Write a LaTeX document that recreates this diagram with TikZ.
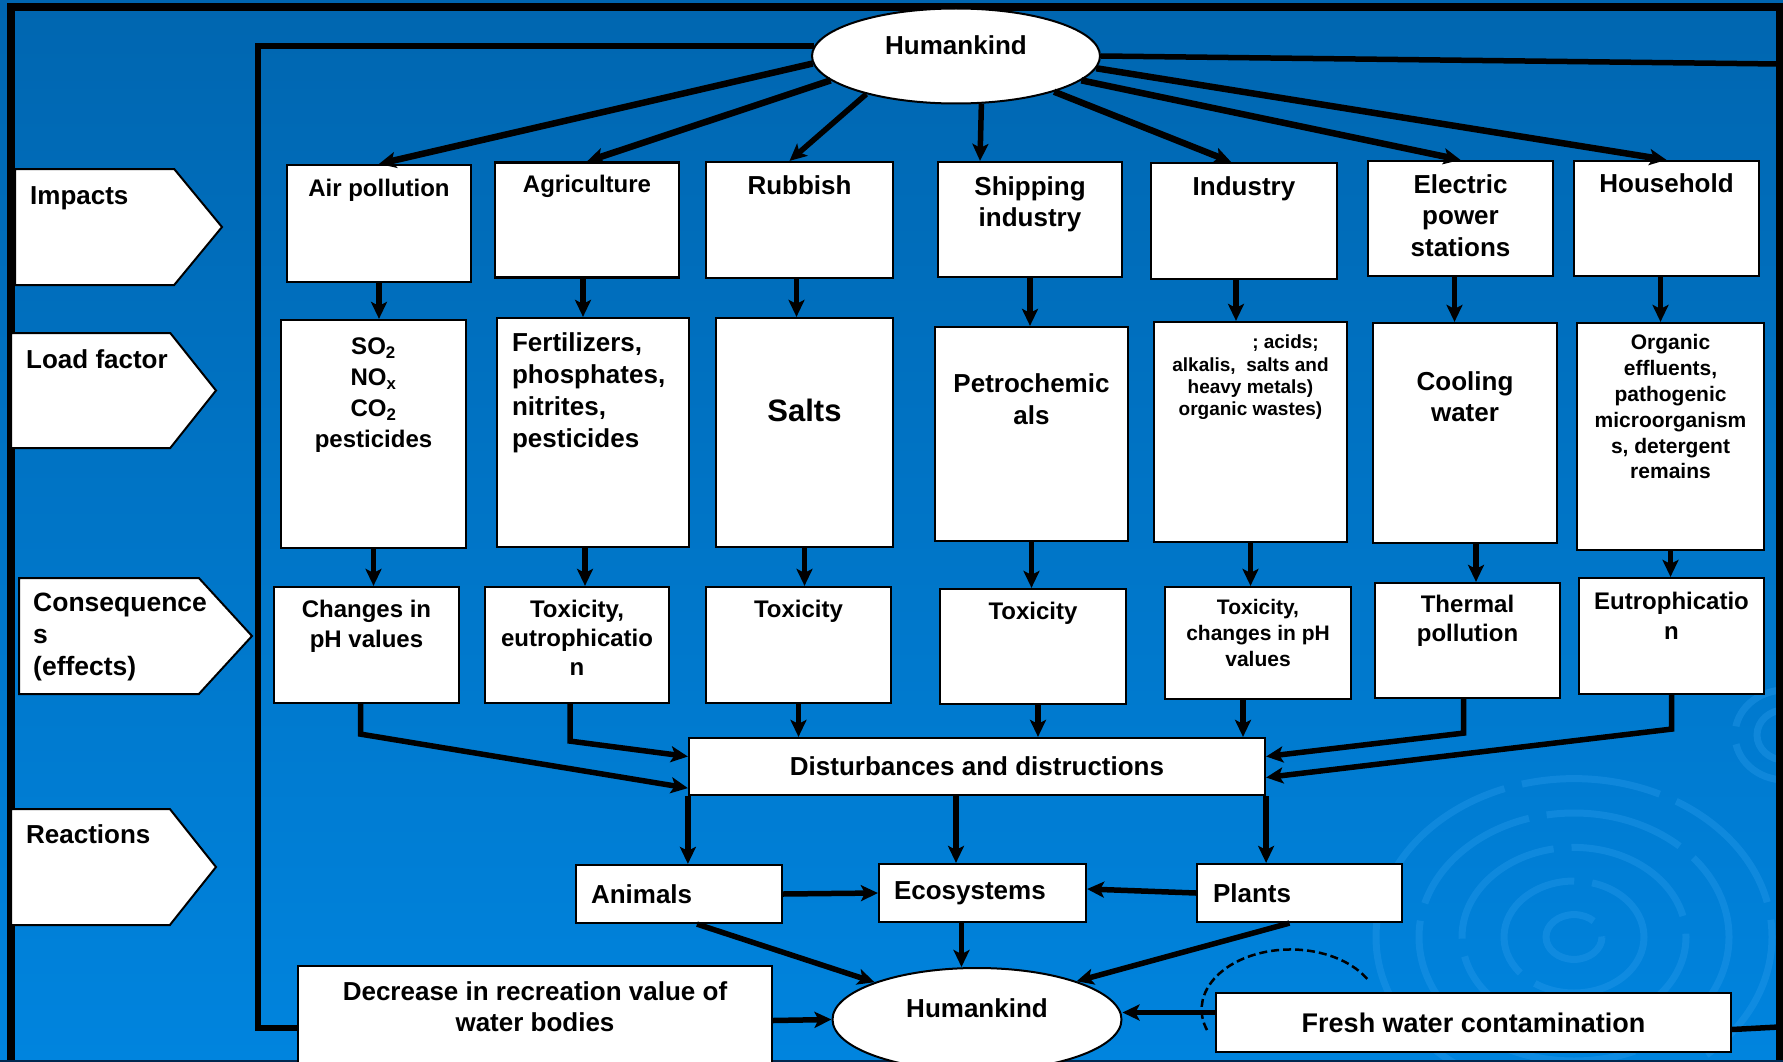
\documentclass[tikz,border=0pt]{standalone}
\usepackage{fontspec}
\setmainfont{Liberation Sans}
\usetikzlibrary{positioning,shapes.geometric,shapes.symbols,arrows.meta}

\definecolor{bgTop}{RGB}{0,102,176}
\definecolor{bgMid}{RGB}{0,110,190}
\definecolor{bgBot}{RGB}{0,132,222}
\definecolor{ripple}{RGB}{40,155,235}
\definecolor{edge}{RGB}{0,40,80}

\newcommand{\fsz}[2]{\bfseries\fontsize{#1}{#2}\selectfont}

\tikzset{
  box/.style={draw=black, line width=2.2pt, fill=white, inner sep=0pt},
  oval/.style={ellipse, draw=black, line width=2pt, fill=white, inner sep=0pt},
  tag/.style={signal, signal to=east, draw=black, line width=2pt, fill=white, inner sep=0pt, anchor=west},
  txt/.style={inner sep=0pt, align=center},
  arr/.style={->, line width=5.5pt},
  link/.style={line width=5.5pt},
  ripplering/.style={ripple, opacity=0.38, line width=7pt, dash pattern=on 140pt off 18pt},
  >={Stealth[length=17pt,width=16pt,inset=4pt]}
}

\begin{document}
\begin{tikzpicture}[x=1pt,y=-1pt]
	\useasboundingbox (0,0) rectangle (1783,1062);
	\clip (0,0) rectangle (1783,1062);
	\shade[top color=bgTop, middle color=bgMid, bottom color=bgBot] (0,0) rectangle (1783,1062);
	% ripples
	\foreach \r in {28,70,112,155,198}
		\draw[ripplering] (1574,937) ellipse [x radius=\r, y radius={0.8*\r}];
	\foreach \r in {28,50}
		\draw[ripplering] (1785,735) ellipse [x radius=\r, y radius={0.9*\r}];
	% frame
	\draw[line width=8pt, line join=miter] (11,1070) -- (11,7) -- (1779.5,7) -- (1779.5,1070);
	\draw[edge, line width=2pt] (0,1061) -- (1783,1061);
	\draw[line width=2.5pt, dash pattern=on 8pt off 4pt] (1207,1030) arc [start angle=160, end angle=330, x radius=89, y radius=60];

	% left tags
	\node[tag, minimum width=207pt, minimum height=116pt, signal pointer angle=101] (tagImp) at (14,227) {};
	\node[tag, minimum width=205pt, minimum height=115pt, signal pointer angle=103] (tagLoad) at (10,390.5) {};
	\node[tag, minimum width=233pt, minimum height=116pt, signal pointer angle=95] (tagCons) at (18,636) {};
	\node[tag, minimum width=205pt, minimum height=116pt, signal pointer angle=103] (tagReac) at (10,867) {};
	\node[txt, anchor=north west, align=left, font=\fsz{26}{32}] (tagImpT) at (30,186) {Impacts};
	\node[txt, anchor=north west, align=left, font=\fsz{26}{32}] (tagLoadT) at (26,349) {Load factor};
	\node[txt, anchor=north west, align=left, font=\fsz{26.5}{32}] (tagConsT) at (33,593) {Consequence\\s\\(effects)};
	\node[txt, anchor=north west, align=left, font=\fsz{26}{32}] (tagReacT) at (26,824) {Reactions};

	% humankind
	\node[oval, minimum width=288pt, minimum height=95pt] (hkT) at (956,56) {};
	\node[txt, font=\fsz{26}{31}] (hkTt) at (956,45) {Humankind};
	\node[oval, minimum width=289pt, minimum height=103pt] (hkB) at (977,1019.5) {};
	\node[txt, font=\fsz{26}{31}] (hkBt) at (977,1008) {Humankind};

	% impacts
	\node[box, minimum width=184pt, minimum height=117pt] (imAir) at (379,223.5) {};
	\node[box, minimum width=184pt, minimum height=115pt] (imAgr) at (587,220) {};
	\node[box, minimum width=187pt, minimum height=116pt] (imRub) at (799.5,220) {};
	\node[box, minimum width=184pt, minimum height=115pt] (imShp) at (1030,219.5) {};
	\node[box, minimum width=186pt, minimum height=116pt] (imInd) at (1244,221) {};
	\node[box, minimum width=185pt, minimum height=115pt] (imEle) at (1460.5,218.5) {};
	\node[box, minimum width=185pt, minimum height=115pt] (imHou) at (1666.5,218.5) {};
	\node[txt, font=\fsz{24}{30}, below=15pt of imAir.north] (imAirT) {Air pollution};
	\node[txt, font=\fsz{24}{30}, below=13.5pt of imAgr.north] (imAgrT) {Agriculture};
	\node[txt, font=\fsz{26}{31}, below=15pt of imRub.north] (imRubT) {Rubbish};
	\node[txt, font=\fsz{26}{31}, below=15.5pt of imShp.north] (imShpT) {Shipping\\industry};
	\node[txt, font=\fsz{26}{31}, below=15pt of imInd.north] (imIndT) {Industry};
	\node[txt, font=\fsz{26}{31.5}, below=14.5pt of imEle.north] (imEleT) {Electric\\power\\stations};
	\node[txt, font=\fsz{26}{31}, below=14pt of imHou.north] (imHouT) {Household};

	% load factors
	\node[box, minimum width=185pt, minimum height=228pt] (lfAir) at (373.5,434) {};
	\node[box, minimum width=192pt, minimum height=229pt] (lfAgr) at (593,432.5) {};
	\node[box, minimum width=177pt, minimum height=229pt] (lfRub) at (804.5,432.5) {};
	\node[box, minimum width=193pt, minimum height=214pt] (lfShp) at (1031.5,434) {};
	\node[box, minimum width=193pt, minimum height=220pt] (lfInd) at (1250.5,432) {};
	\node[box, minimum width=184pt, minimum height=220pt] (lfEle) at (1465,433) {};
	\node[box, minimum width=187pt, minimum height=227pt] (lfHou) at (1670.5,436.5) {};
	\node[txt, font=\fsz{24}{31}, below=19pt of lfAir.north] (lfAirT) {SO\textsubscript{2}\\NO\textsubscript{x}\\CO\textsubscript{2}\\pesticides};
	\node[txt, align=left, font=\fsz{26}{32}, below right=16pt and 16pt of lfAgr.north west] (lfAgrT) {Fertilizers,\\phosphates,\\nitrites,\\pesticides};
	\node[txt, font=\fsz{31}{37}, below=82pt of lfRub.north] (lfRubT) {Salts};
	\node[txt, font=\fsz{26}{32}, below=47.5pt of lfShp.north] (lfShpT) {Petrochemic\\als};
	\node[txt, font=\fsz{19}{22.3}, below=14pt of lfInd.north] (lfIndT) {\hspace*{70pt}; acids;\\alkalis,~ salts and\\heavy metals)\\organic wastes)};
	\node[txt, font=\fsz{26}{31}, below=49.5pt of lfEle.north] (lfEleT) {Cooling\\water};
	\node[txt, font=\fsz{21}{25.8}, below=12.5pt of lfHou.north] (lfHouT) {Organic\\effluents,\\pathogenic\\microorganism\\s, detergent\\remains};

	% consequences
	\node[box, minimum width=185pt, minimum height=116pt] (coAir) at (366.5,645) {};
	\node[box, minimum width=184pt, minimum height=116pt] (coAgr) at (577,645) {};
	\node[box, minimum width=185pt, minimum height=116pt] (coRub) at (798.5,645) {};
	\node[box, minimum width=186pt, minimum height=115pt] (coShp) at (1033,646.5) {};
	\node[box, minimum width=186pt, minimum height=112pt] (coInd) at (1258,643) {};
	\node[box, minimum width=185pt, minimum height=115pt] (coEle) at (1467.5,640.5) {};
	\node[box, minimum width=185pt, minimum height=116pt] (coHou) at (1671.5,636) {};
	\node[txt, font=\fsz{24}{30}, below=14.5pt of coAir.north] (coAirT) {Changes in\\pH values};
	\node[txt, font=\fsz{24}{29}, below=14.5pt of coAgr.north] (coAgrT) {Toxicity,\\eutrophicatio\\n};
	\node[txt, font=\fsz{24}{30}, below=14.5pt of coRub.north] (coRubT) {Toxicity};
	\node[txt, font=\fsz{24}{30}, below=14.5pt of coShp.north] (coShpT) {Toxicity};
	\node[txt, font=\fsz{21}{26}, below=13.5pt of coInd.north] (coIndT) {Toxicity,\\changes in pH\\values};
	\node[txt, font=\fsz{24}{28.5}, below=13.5pt of coEle.north] (coEleT) {Thermal\\pollution};
	\node[txt, font=\fsz{24}{30}, below=15.5pt of coHou.north] (coHouT) {Eutrophicatio\\n};

	% disturbances and reactions
	\node[box, minimum width=576pt, minimum height=57pt, font=\fsz{26}{31}] (ds) at (977,766.5) {Disturbances and distructions};
	\node[box, minimum width=206pt, minimum height=58pt, text width=176pt, align=left, font=\fsz{26}{31}] (an) at (679,894) {Animals};
	\node[box, minimum width=207pt, minimum height=58pt, text width=177pt, align=left, font=\fsz{26}{31}] (ec) at (982.5,893) {Ecosystems};
	\node[box, minimum width=205pt, minimum height=58pt, text width=173pt, align=left, font=\fsz{26}{31}] (pl) at (1299.5,893) {Plants};
	\node[box, minimum width=474pt, minimum height=109pt] (dc) at (535,1020.5) {};
	\node[txt, font=\fsz{26}{31}, below=16.5pt of dc.north] (dcT) {Decrease in recreation value of\\water bodies};
	\node[box, minimum width=515pt, minimum height=59pt, font=\fsz{27}{32}] (fw) at (1473.5,1022.5) {Fresh water contamination};

	% connectors
	\coordinate (rTop) at (1779,64);
	\coordinate (rBot) at (1779,1027);
	\coordinate (lpBot) at (258,1028);
	\draw[link] (hkT.176) -| (lpBot) -- (lpBot -| dc.west);
	\draw[link] (hkT.east) -- (rTop);
	\draw[link] ([yshift=-7pt]fw.east) -- (rBot);

	\draw[arr, line width=6.5pt] (hkT.183) -- (imAir.north);
	\draw[arr, line width=6.5pt] (hkT.191) -- (imAgr.north);
	\draw[arr] (hkT.203) -- ([xshift=-10pt]imRub.north);
	\draw[arr] (hkT.298) -- ([xshift=-50pt]imShp.north);
	\draw[arr, line width=6.5pt] (hkT.340) -- ([xshift=-13pt]imInd.north);
	\draw[arr, line width=6.5pt] (hkT.349) -- (imEle.north);
	\draw[arr, line width=6.5pt] (hkT.355) -- (imHou.north);

	\draw[arr] (imAir.south) -- (imAir.south |- lfAir.north);
	\draw[arr] ([xshift=-4pt]imAgr.south) -- ([xshift=-4pt]imAgr.south |- lfAgr.north);
	\draw[arr] ([xshift=-3pt]imRub.south) -- ([xshift=-3pt]imRub.south |- lfRub.north);
	\draw[arr] (imShp.south) -- (imShp.south |- lfShp.north);
	\draw[arr] ([xshift=-8pt]imInd.south) -- ([xshift=-8pt]imInd.south |- lfInd.north);
	\draw[arr] ([xshift=-6pt]imEle.south) -- ([xshift=-6pt]imEle.south |- lfEle.north);
	\draw[arr] ([xshift=-6pt]imHou.south) -- ([xshift=-6pt]imHou.south |- lfHou.north);

	\draw[arr] (lfAir.south) -- (lfAir.south |- coAir.north);
	\draw[arr] ([xshift=-8pt]lfAgr.south) -- ([xshift=-8pt]lfAgr.south |- coAgr.north);
	\draw[arr] (lfRub.south) -- (lfRub.south |- coRub.north);
	\draw[arr] (lfShp.south) -- (lfShp.south |- coShp.north);
	\draw[arr] (lfInd.south) -- (lfInd.south |- coInd.north);
	\draw[arr] ([xshift=11pt]lfEle.south) -- ([xshift=11pt]lfEle.south |- coEle.north);
	\draw[arr] (lfHou.south) -- (lfHou.south |- coHou.north);

	\draw[arr] ([xshift=-6pt]coAir.south) -- ++(0,30) -- ([yshift=8pt]ds.south west);
	\draw[arr] ([xshift=-7pt]coAgr.south) -- ++(0,37) -- ([yshift=10pt]ds.west);
	\draw[arr] (coRub.south) -- (coRub.south |- ds.north);
	\draw[arr] ([xshift=5pt]coShp.south) -- ([xshift=5pt]coShp.south |- ds.north);
	\draw[arr] ([xshift=-15pt]coInd.south) -- ([xshift=-15pt]coInd.south |- ds.north);
	\draw[arr] ([xshift=-4pt]coEle.south) -- ++(0,34) -- ([yshift=10pt]ds.east);
	\draw[arr] (coHou.south) -- ++(0,34) -- ([yshift=-11pt]ds.east);

	\draw[arr] (ds.south west) -- (ds.south west |- an.north);
	\draw[arr] ([xshift=-21pt]ds.south) -- ([xshift=-21pt]ds.south |- ec.north);
	\draw[arr] (ds.south east) -- (ds.south east |- pl.north);
	\draw[arr] (an.east) -- (ec.west);
	\draw[arr] (pl.west) -- ([yshift=4pt]ec.east);

	\draw[arr] ([xshift=18pt]an.south) -- (hkB.160);
	\draw[arr] ([xshift=-21pt]ec.south) -- ([xshift=-21pt]ec.south |- hkB.north);
	\draw[arr] ([xshift=-10pt]pl.south) -- (hkB.21);
	\draw[arr] (dc.east) -- (hkB.west);
	\draw[arr] ([yshift=10pt]fw.west) -- ([yshift=10pt]fw.west -| hkB.east);
\end{tikzpicture}
\end{document}
